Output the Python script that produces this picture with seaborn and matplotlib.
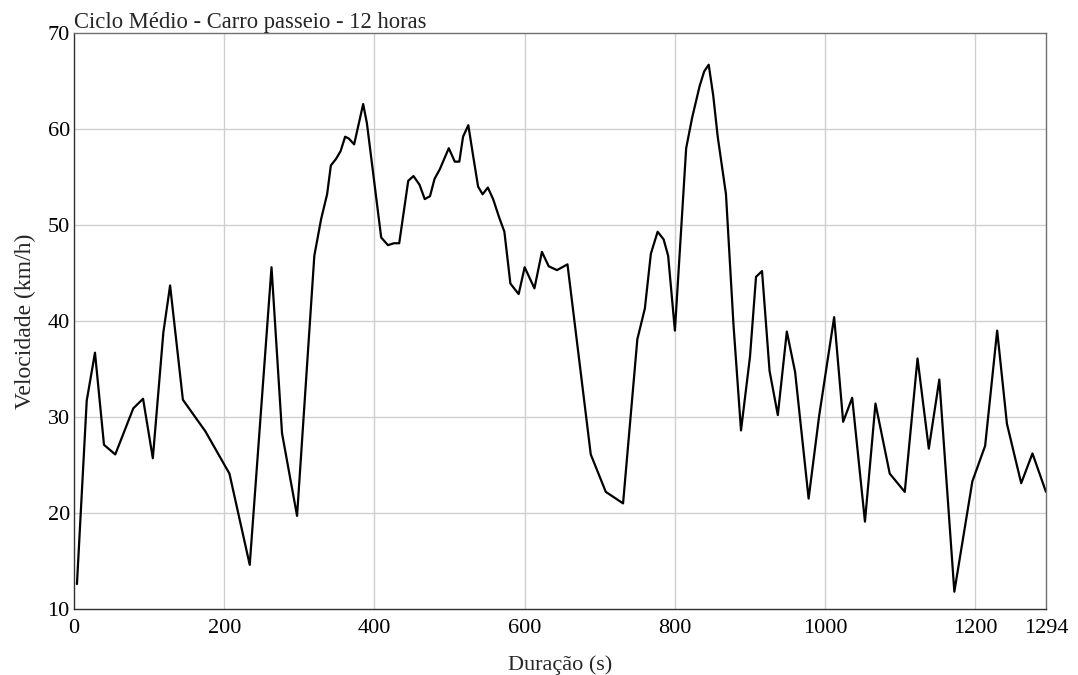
import matplotlib
matplotlib.use("Agg")
import matplotlib.pyplot as plt
import seaborn as sns
import pandas as pd

duracao = [4, 17, 28, 40, 55, 79, 92, 105, 119, 128, 145, 175, 207, 234, 263, 277,
           297, 320, 329, 337, 342, 349, 355, 361, 366, 373, 385, 390, 409, 418, 426,
           433, 445, 452, 460, 467, 474, 480, 487, 499, 507, 513, 518, 525, 531, 538,
           544, 551, 558, 566, 573, 581, 592, 600, 613, 623, 632, 643, 657, 688, 708,
           731, 750, 760, 768, 777, 785, 791, 800, 809, 815, 823, 833, 839, 845, 851,
           857, 868, 878, 888, 900, 908, 916, 926, 937, 949, 960, 978, 992, 1012, 1024,
           1036, 1053, 1067, 1086, 1106, 1123, 1138, 1152, 1172, 1196, 1213, 1229, 1242,
           1261, 1276, 1294]
velocidade = [12.6, 31.7, 36.7, 27.1, 26.1, 30.9, 31.9, 25.7, 38.8, 43.7, 31.8, 28.5,
              24.1, 14.6, 45.6, 28.3, 19.7, 46.8, 50.6, 53.2, 56.2, 56.9, 57.7, 59.2,
              59.0, 58.4, 62.6, 60.6, 48.7, 47.9, 48.1, 48.1, 54.6, 55.1, 54.2, 52.7,
              53.0, 54.8, 55.8, 58.0, 56.6, 56.6, 59.2, 60.4, 57.4, 54.0, 53.2, 53.9,
              52.7, 50.8, 49.3, 43.9, 42.8, 45.6, 43.4, 47.2, 45.7, 45.3, 45.9, 26.1,
              22.2, 21.0, 38.1, 41.3, 47.0, 49.3, 48.5, 46.8, 39.0, 50.4, 58.0, 61.2,
              64.5, 66.0, 66.7, 63.5, 59.2, 53.2, 39.6, 28.6, 36.3, 44.6, 45.2, 34.8,
              30.2, 38.9, 34.7, 21.5, 30.1, 40.4, 29.5, 32.0, 19.1, 31.4, 24.1, 22.2,
              36.1, 26.7, 33.9, 11.8, 23.3, 27.0, 39.0, 29.3, 23.1, 26.2, 22.2]

x_ticks = [0, 200, 400, 600, 800, 1000, 1200, 1294]
y_ticks = [10, 20, 30, 40, 50, 60, 70]

df = pd.DataFrame({"Duração (s)": duracao, "Velocidade (km/h)": velocidade})

sns.set_theme(style="white")
plt.rcParams["font.family"] = ["Liberation Serif", "DejaVu Serif"]

fig = plt.figure(figsize=(10.78, 6.75), dpi=100)
ax = fig.add_axes([0.0686, 0.0978, 0.9017, 0.8533])

ax.set_xlim(0, 1294)
ax.set_ylim(10, 70)
ax.set_xticks(x_ticks)
ax.set_yticks(y_ticks)
for xv in x_ticks[1:-1]:
    ax.axvline(xv, color="#d0d0d0", lw=1.0, zorder=0)
for yv in y_ticks[1:-1]:
    ax.axhline(yv, color="#d0d0d0", lw=1.0, zorder=0)

sns.lineplot(data=df, x="Duração (s)", y="Velocidade (km/h)", ax=ax,
             color="black", lw=1.6, sort=False, estimator=None)

ax.tick_params(axis="both", length=0, labelsize=16, colors="black")
ax.tick_params(axis="y", pad=3)
ax.tick_params(axis="x", pad=7)
ax.set_xlabel("Duração (s)", fontsize=16, labelpad=13)
ax.set_ylabel("Velocidade (km/h)", fontsize=17, labelpad=8)
for side in ["left", "bottom"]:
    ax.spines[side].set_color("#303030")
    ax.spines[side].set_linewidth(1.0)
for side in ["top", "right"]:
    ax.spines[side].set_color("#707070")
    ax.spines[side].set_linewidth(1.0)

ax.text(0.0, 1.0, "Ciclo Médio - Carro passeio - 12 horas", transform=ax.transAxes,
        ha="left", va="bottom", fontsize=16.3)

fig.savefig("out.png", dpi=100, facecolor="white")
